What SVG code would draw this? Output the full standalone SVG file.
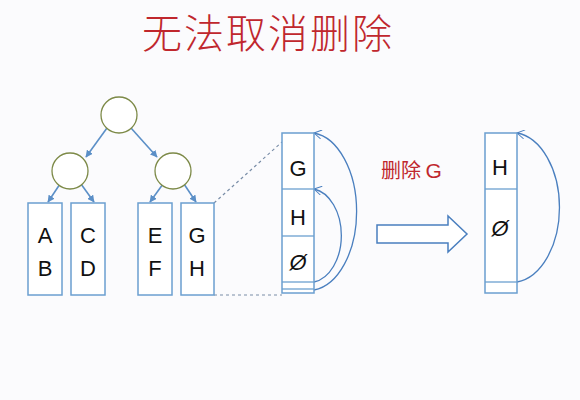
<svg xmlns="http://www.w3.org/2000/svg" width="580" height="400" viewBox="0 0 580 400">
<style>
.title{font-family:"Noto Sans CJK SC","Noto Sans",sans-serif;font-size:40px;fill:#c0272d;font-weight:300;letter-spacing:2px}
.lbl{font-family:"Liberation Sans",Arial,sans-serif;font-size:22px;fill:#111;text-anchor:middle}
.red{font-family:"Noto Sans CJK SC","Liberation Sans",sans-serif;font-size:20px;fill:#c0272d}
.circ{fill:#fff;stroke:#7d8a48;stroke-width:1.3}
.box{fill:#fff;stroke:#6b9fd0;stroke-width:1.5}
.div{stroke:#6b9fd0;stroke-width:1.3}
.edge{stroke:#5b8fc7;stroke-width:1.6;fill:none;marker-end:url(#tri)}
.curve{stroke:#4a7fbf;stroke-width:1.3;fill:none;marker-end:url(#chev)}
.dash{stroke:#7a8ea8;stroke-width:1.2;stroke-dasharray:3,3;fill:none}
</style>
<defs>
<marker id="tri" viewBox="0 0 10 10" refX="9" refY="5" markerWidth="4.5" markerHeight="4.5" orient="auto">
<path d="M0,0 L10,5 L0,10 z" fill="#5b8fc7"/>
</marker>
<marker id="chev" viewBox="0 0 12 12" refX="11" refY="6" markerWidth="9" markerHeight="9" markerUnits="userSpaceOnUse" orient="auto">
<path d="M1,0 L11,6 L1,12" fill="none" stroke="#4a7fbf" stroke-width="1.3"/>
</marker>
</defs>
<rect width="580" height="400" fill="#fbfbfd"/>
<text class="title" x="142" y="48">无法取消删除</text>

<g id="connectors">
<line class="edge" x1="107" y1="128" x2="86" y2="157"/>
<line class="edge" x1="131" y1="128" x2="157" y2="157"/>
<line class="edge" x1="60" y1="184" x2="48" y2="202"/>
<line class="edge" x1="81" y1="184" x2="94" y2="202"/>
<line class="edge" x1="163" y1="184" x2="150" y2="202"/>
<line class="edge" x1="184" y1="184" x2="196" y2="202"/>
<path class="dash" d="M214,203 L282,142"/>
<path class="dash" d="M214,295 L282,295"/>
<path class="curve" d="M314,290 A48,79 0 0 0 314,133"/>
<path class="curve" d="M314,282 A32,47 0 0 0 314,189"/>
<path class="curve" d="M517,282 A48,75 0 0 0 517,133"/>
</g>

<g id="root"><circle class="circ" cx="119" cy="115" r="18"/></g>
<g id="left"><circle class="circ" cx="70" cy="171" r="18"/></g>
<g id="right"><circle class="circ" cx="173" cy="171" r="18"/></g>

<g id="leafAB"><rect class="box" x="28" y="203" width="34" height="92"/><text class="lbl" x="45" y="243">A</text><text class="lbl" x="45" y="276">B</text></g>
<g id="leafCD"><rect class="box" x="71" y="203" width="34" height="92"/><text class="lbl" x="88" y="243">C</text><text class="lbl" x="88" y="276">D</text></g>
<g id="leafEF"><rect class="box" x="138" y="203" width="34" height="92"/><text class="lbl" x="155" y="243">E</text><text class="lbl" x="155" y="276">F</text></g>
<g id="leafGH"><rect class="box" x="181" y="203" width="33" height="92"/><text class="lbl" x="197" y="243">G</text><text class="lbl" x="197" y="276">H</text></g>

<g id="pageBefore">
<rect class="box" x="282" y="133" width="32" height="160"/>
<line class="div" x1="282" y1="189" x2="314" y2="189"/>
<line class="div" x1="282" y1="236" x2="314" y2="236"/>
<line class="div" x1="282" y1="282" x2="314" y2="282"/>
<line class="div" x1="282" y1="289" x2="314" y2="289"/>
<text class="lbl" x="298" y="176">G</text>
<text class="lbl" x="298" y="225">H</text>
<text class="lbl" x="298" y="270" font-style="italic">Ø</text>
</g>

<g id="label"><text class="red" x="381" y="178">删除 <tspan font-family="Liberation Sans,Arial,sans-serif" font-size="21">G</tspan></text></g>

<g id="bigArrow"><path d="M377,225 L448,225 L448,216 L467,234 L448,252 L448,243 L377,243 Z" fill="#fff" stroke="#4a7fbf" stroke-width="1.5"/></g>

<g id="pageAfter">
<rect class="box" x="485" y="133" width="32" height="160"/>
<line class="div" x1="485" y1="189" x2="517" y2="189"/>
<line class="div" x1="485" y1="282" x2="517" y2="282"/>
<text class="lbl" x="500" y="175">H</text>
<text class="lbl" x="500" y="236" font-style="italic">Ø</text>
</g>
</svg>
